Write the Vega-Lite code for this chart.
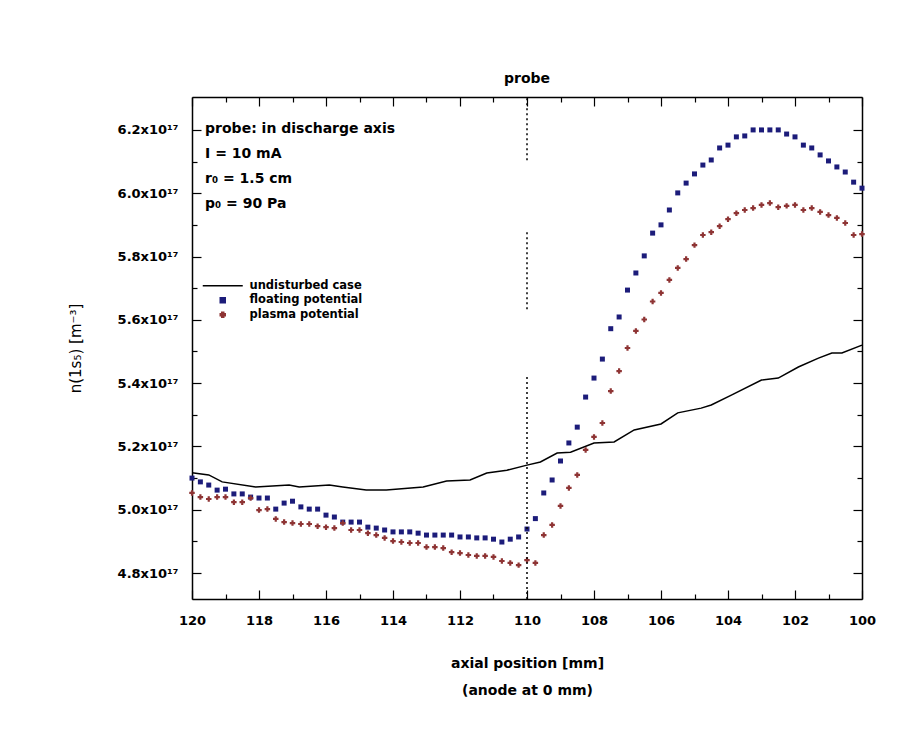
{
  "$schema": "https://vega.github.io/schema/vega-lite/v6.json",
  "autosize": {"type": "none"},
  "padding": {"left": 192, "top": 97, "right": 51, "bottom": 152},
  "width": 670,
  "height": 502,
  "background": "white",
  "title": {"text": "probe", "fontSize": 14, "fontWeight": "bold", "font": "DejaVu Sans", "color": "black", "offset": 10},
  "config": {
    "view": {"stroke": null},
    "axis": {"grid": false, "domainColor": "black", "domainWidth": 1.5, "tickColor": "black", "tickWidth": 1.2, "labelFont": "DejaVu Sans", "labelFontWeight": "bold", "labelFontSize": 13, "labelColor": "black", "titleFont": "DejaVu Sans", "titleColor": "black"}
  },
  "datasets": {
    "curves": [
      {"pos": 120, "n": 5.117, "series": "undisturbed case"},
      {"pos": 119.5, "n": 5.110, "series": "undisturbed case"},
      {"pos": 119.1, "n": 5.088, "series": "undisturbed case"},
      {"pos": 118.1, "n": 5.072, "series": "undisturbed case"},
      {"pos": 117.1, "n": 5.078, "series": "undisturbed case"},
      {"pos": 116.8, "n": 5.072, "series": "undisturbed case"},
      {"pos": 115.9, "n": 5.078, "series": "undisturbed case"},
      {"pos": 115.5, "n": 5.072, "series": "undisturbed case"},
      {"pos": 114.8, "n": 5.062, "series": "undisturbed case"},
      {"pos": 114.2, "n": 5.062, "series": "undisturbed case"},
      {"pos": 113.1, "n": 5.072, "series": "undisturbed case"},
      {"pos": 112.4, "n": 5.091, "series": "undisturbed case"},
      {"pos": 111.7, "n": 5.094, "series": "undisturbed case"},
      {"pos": 111.2, "n": 5.116, "series": "undisturbed case"},
      {"pos": 110.6, "n": 5.125, "series": "undisturbed case"},
      {"pos": 110.0, "n": 5.141, "series": "undisturbed case"},
      {"pos": 109.6, "n": 5.151, "series": "undisturbed case"},
      {"pos": 109.1, "n": 5.179, "series": "undisturbed case"},
      {"pos": 108.7, "n": 5.182, "series": "undisturbed case"},
      {"pos": 108.0, "n": 5.211, "series": "undisturbed case"},
      {"pos": 107.4, "n": 5.214, "series": "undisturbed case"},
      {"pos": 106.8, "n": 5.252, "series": "undisturbed case"},
      {"pos": 106.0, "n": 5.271, "series": "undisturbed case"},
      {"pos": 105.5, "n": 5.306, "series": "undisturbed case"},
      {"pos": 104.8, "n": 5.321, "series": "undisturbed case"},
      {"pos": 104.5, "n": 5.331, "series": "undisturbed case"},
      {"pos": 103.9, "n": 5.362, "series": "undisturbed case"},
      {"pos": 103.0, "n": 5.410, "series": "undisturbed case"},
      {"pos": 102.5, "n": 5.416, "series": "undisturbed case"},
      {"pos": 101.9, "n": 5.451, "series": "undisturbed case"},
      {"pos": 101.3, "n": 5.479, "series": "undisturbed case"},
      {"pos": 100.9, "n": 5.495, "series": "undisturbed case"},
      {"pos": 100.6, "n": 5.495, "series": "undisturbed case"},
      {"pos": 100.0, "n": 5.520, "series": "undisturbed case"},

      {"pos": 120, "n": 5.100, "series": "floating potential"},
      {"pos": 119.75, "n": 5.088, "series": "floating potential"},
      {"pos": 119.5, "n": 5.078, "series": "floating potential"},
      {"pos": 119.25, "n": 5.062, "series": "floating potential"},
      {"pos": 119.0, "n": 5.065, "series": "floating potential"},
      {"pos": 118.75, "n": 5.050, "series": "floating potential"},
      {"pos": 118.5, "n": 5.050, "series": "floating potential"},
      {"pos": 118.25, "n": 5.040, "series": "floating potential"},
      {"pos": 118.0, "n": 5.037, "series": "floating potential"},
      {"pos": 117.75, "n": 5.037, "series": "floating potential"},
      {"pos": 117.5, "n": 5.002, "series": "floating potential"},
      {"pos": 117.25, "n": 5.021, "series": "floating potential"},
      {"pos": 117.0, "n": 5.027, "series": "floating potential"},
      {"pos": 116.75, "n": 5.009, "series": "floating potential"},
      {"pos": 116.5, "n": 5.002, "series": "floating potential"},
      {"pos": 116.25, "n": 5.002, "series": "floating potential"},
      {"pos": 116.0, "n": 4.983, "series": "floating potential"},
      {"pos": 115.75, "n": 4.977, "series": "floating potential"},
      {"pos": 115.5, "n": 4.961, "series": "floating potential"},
      {"pos": 115.25, "n": 4.961, "series": "floating potential"},
      {"pos": 115.0, "n": 4.961, "series": "floating potential"},
      {"pos": 114.75, "n": 4.945, "series": "floating potential"},
      {"pos": 114.5, "n": 4.942, "series": "floating potential"},
      {"pos": 114.25, "n": 4.936, "series": "floating potential"},
      {"pos": 114.0, "n": 4.930, "series": "floating potential"},
      {"pos": 113.75, "n": 4.930, "series": "floating potential"},
      {"pos": 113.5, "n": 4.930, "series": "floating potential"},
      {"pos": 113.25, "n": 4.926, "series": "floating potential"},
      {"pos": 113.0, "n": 4.920, "series": "floating potential"},
      {"pos": 112.75, "n": 4.920, "series": "floating potential"},
      {"pos": 112.5, "n": 4.920, "series": "floating potential"},
      {"pos": 112.25, "n": 4.920, "series": "floating potential"},
      {"pos": 112.0, "n": 4.914, "series": "floating potential"},
      {"pos": 111.75, "n": 4.914, "series": "floating potential"},
      {"pos": 111.5, "n": 4.911, "series": "floating potential"},
      {"pos": 111.25, "n": 4.911, "series": "floating potential"},
      {"pos": 111.0, "n": 4.907, "series": "floating potential"},
      {"pos": 110.75, "n": 4.898, "series": "floating potential"},
      {"pos": 110.5, "n": 4.907, "series": "floating potential"},
      {"pos": 110.25, "n": 4.914, "series": "floating potential"},
      {"pos": 110.0, "n": 4.939, "series": "floating potential"},
      {"pos": 109.75, "n": 4.972, "series": "floating potential"},
      {"pos": 109.5, "n": 5.053, "series": "floating potential"},
      {"pos": 109.25, "n": 5.094, "series": "floating potential"},
      {"pos": 109.0, "n": 5.154, "series": "floating potential"},
      {"pos": 108.75, "n": 5.211, "series": "floating potential"},
      {"pos": 108.5, "n": 5.261, "series": "floating potential"},
      {"pos": 108.25, "n": 5.356, "series": "floating potential"},
      {"pos": 108.0, "n": 5.416, "series": "floating potential"},
      {"pos": 107.75, "n": 5.476, "series": "floating potential"},
      {"pos": 107.5, "n": 5.572, "series": "floating potential"},
      {"pos": 107.25, "n": 5.609, "series": "floating potential"},
      {"pos": 107.0, "n": 5.694, "series": "floating potential"},
      {"pos": 106.75, "n": 5.748, "series": "floating potential"},
      {"pos": 106.5, "n": 5.802, "series": "floating potential"},
      {"pos": 106.25, "n": 5.874, "series": "floating potential"},
      {"pos": 106.0, "n": 5.900, "series": "floating potential"},
      {"pos": 105.75, "n": 5.947, "series": "floating potential"},
      {"pos": 105.5, "n": 6.001, "series": "floating potential"},
      {"pos": 105.25, "n": 6.032, "series": "floating potential"},
      {"pos": 105.0, "n": 6.061, "series": "floating potential"},
      {"pos": 104.75, "n": 6.089, "series": "floating potential"},
      {"pos": 104.5, "n": 6.105, "series": "floating potential"},
      {"pos": 104.25, "n": 6.143, "series": "floating potential"},
      {"pos": 104.0, "n": 6.152, "series": "floating potential"},
      {"pos": 103.75, "n": 6.178, "series": "floating potential"},
      {"pos": 103.5, "n": 6.181, "series": "floating potential"},
      {"pos": 103.25, "n": 6.200, "series": "floating potential"},
      {"pos": 103.0, "n": 6.200, "series": "floating potential"},
      {"pos": 102.75, "n": 6.200, "series": "floating potential"},
      {"pos": 102.5, "n": 6.200, "series": "floating potential"},
      {"pos": 102.25, "n": 6.187, "series": "floating potential"},
      {"pos": 102.0, "n": 6.178, "series": "floating potential"},
      {"pos": 101.75, "n": 6.152, "series": "floating potential"},
      {"pos": 101.5, "n": 6.143, "series": "floating potential"},
      {"pos": 101.25, "n": 6.121, "series": "floating potential"},
      {"pos": 101.0, "n": 6.102, "series": "floating potential"},
      {"pos": 100.75, "n": 6.083, "series": "floating potential"},
      {"pos": 100.5, "n": 6.067, "series": "floating potential"},
      {"pos": 100.25, "n": 6.035, "series": "floating potential"},
      {"pos": 100.0, "n": 6.016, "series": "floating potential"},

      {"pos": 120, "n": 5.053, "series": "plasma potential"},
      {"pos": 119.75, "n": 5.040, "series": "plasma potential"},
      {"pos": 119.5, "n": 5.034, "series": "plasma potential"},
      {"pos": 119.25, "n": 5.040, "series": "plasma potential"},
      {"pos": 119.0, "n": 5.040, "series": "plasma potential"},
      {"pos": 118.75, "n": 5.024, "series": "plasma potential"},
      {"pos": 118.5, "n": 5.024, "series": "plasma potential"},
      {"pos": 118.25, "n": 5.037, "series": "plasma potential"},
      {"pos": 118.0, "n": 4.999, "series": "plasma potential"},
      {"pos": 117.75, "n": 5.002, "series": "plasma potential"},
      {"pos": 117.5, "n": 4.971, "series": "plasma potential"},
      {"pos": 117.25, "n": 4.961, "series": "plasma potential"},
      {"pos": 117.0, "n": 4.958, "series": "plasma potential"},
      {"pos": 116.75, "n": 4.955, "series": "plasma potential"},
      {"pos": 116.5, "n": 4.955, "series": "plasma potential"},
      {"pos": 116.25, "n": 4.948, "series": "plasma potential"},
      {"pos": 116.0, "n": 4.945, "series": "plasma potential"},
      {"pos": 115.75, "n": 4.942, "series": "plasma potential"},
      {"pos": 115.5, "n": 4.958, "series": "plasma potential"},
      {"pos": 115.25, "n": 4.936, "series": "plasma potential"},
      {"pos": 115.0, "n": 4.936, "series": "plasma potential"},
      {"pos": 114.75, "n": 4.926, "series": "plasma potential"},
      {"pos": 114.5, "n": 4.920, "series": "plasma potential"},
      {"pos": 114.25, "n": 4.911, "series": "plasma potential"},
      {"pos": 114.0, "n": 4.901, "series": "plasma potential"},
      {"pos": 113.75, "n": 4.898, "series": "plasma potential"},
      {"pos": 113.5, "n": 4.895, "series": "plasma potential"},
      {"pos": 113.25, "n": 4.895, "series": "plasma potential"},
      {"pos": 113.0, "n": 4.882, "series": "plasma potential"},
      {"pos": 112.75, "n": 4.882, "series": "plasma potential"},
      {"pos": 112.5, "n": 4.879, "series": "plasma potential"},
      {"pos": 112.25, "n": 4.866, "series": "plasma potential"},
      {"pos": 112.0, "n": 4.863, "series": "plasma potential"},
      {"pos": 111.75, "n": 4.857, "series": "plasma potential"},
      {"pos": 111.5, "n": 4.854, "series": "plasma potential"},
      {"pos": 111.25, "n": 4.854, "series": "plasma potential"},
      {"pos": 111.0, "n": 4.851, "series": "plasma potential"},
      {"pos": 110.75, "n": 4.838, "series": "plasma potential"},
      {"pos": 110.5, "n": 4.832, "series": "plasma potential"},
      {"pos": 110.25, "n": 4.825, "series": "plasma potential"},
      {"pos": 110.0, "n": 4.841, "series": "plasma potential"},
      {"pos": 109.75, "n": 4.832, "series": "plasma potential"},
      {"pos": 109.5, "n": 4.920, "series": "plasma potential"},
      {"pos": 109.25, "n": 4.952, "series": "plasma potential"},
      {"pos": 109.0, "n": 5.012, "series": "plasma potential"},
      {"pos": 108.75, "n": 5.069, "series": "plasma potential"},
      {"pos": 108.5, "n": 5.110, "series": "plasma potential"},
      {"pos": 108.25, "n": 5.189, "series": "plasma potential"},
      {"pos": 108.0, "n": 5.230, "series": "plasma potential"},
      {"pos": 107.75, "n": 5.274, "series": "plasma potential"},
      {"pos": 107.5, "n": 5.375, "series": "plasma potential"},
      {"pos": 107.25, "n": 5.438, "series": "plasma potential"},
      {"pos": 107.0, "n": 5.511, "series": "plasma potential"},
      {"pos": 106.75, "n": 5.565, "series": "plasma potential"},
      {"pos": 106.5, "n": 5.601, "series": "plasma potential"},
      {"pos": 106.25, "n": 5.658, "series": "plasma potential"},
      {"pos": 106.0, "n": 5.685, "series": "plasma potential"},
      {"pos": 105.75, "n": 5.726, "series": "plasma potential"},
      {"pos": 105.5, "n": 5.764, "series": "plasma potential"},
      {"pos": 105.25, "n": 5.792, "series": "plasma potential"},
      {"pos": 105.0, "n": 5.836, "series": "plasma potential"},
      {"pos": 104.75, "n": 5.868, "series": "plasma potential"},
      {"pos": 104.5, "n": 5.877, "series": "plasma potential"},
      {"pos": 104.25, "n": 5.896, "series": "plasma potential"},
      {"pos": 104.0, "n": 5.918, "series": "plasma potential"},
      {"pos": 103.75, "n": 5.937, "series": "plasma potential"},
      {"pos": 103.5, "n": 5.947, "series": "plasma potential"},
      {"pos": 103.25, "n": 5.953, "series": "plasma potential"},
      {"pos": 103.0, "n": 5.963, "series": "plasma potential"},
      {"pos": 102.75, "n": 5.969, "series": "plasma potential"},
      {"pos": 102.5, "n": 5.956, "series": "plasma potential"},
      {"pos": 102.25, "n": 5.960, "series": "plasma potential"},
      {"pos": 102.0, "n": 5.963, "series": "plasma potential"},
      {"pos": 101.75, "n": 5.947, "series": "plasma potential"},
      {"pos": 101.5, "n": 5.953, "series": "plasma potential"},
      {"pos": 101.25, "n": 5.941, "series": "plasma potential"},
      {"pos": 101.0, "n": 5.931, "series": "plasma potential"},
      {"pos": 100.75, "n": 5.922, "series": "plasma potential"},
      {"pos": 100.5, "n": 5.906, "series": "plasma potential"},
      {"pos": 100.25, "n": 5.868, "series": "plasma potential"},
      {"pos": 100.0, "n": 5.871, "series": "plasma potential"}
    ]
  },
  "layer": [
    {
      "data": {"name": "curves"},
      "transform": [{"filter": "datum.series === 'undisturbed case'"}],
      "mark": {"type": "line", "strokeWidth": 1.5, "interpolate": "linear"},
      "encoding": {
        "x": {"field": "pos", "type": "quantitative",
          "scale": {"domain": [100, 120], "reverse": true, "nice": false, "zero": false},
          "axis": {"orient": "bottom", "values": [100,101,102,103,104,105,106,107,108,109,110,111,112,113,114,115,116,117,118,119,120],
            "labelExpr": "datum.value % 2 === 0 ? format(datum.value, 'd') : ''",
            "tickSize": {"condition": {"test": "datum.value % 2 === 0", "value": -9}, "value": -5},
            "labelPadding": 24, "labelFlush": false,
            "title": ["axial position [mm]", "(anode at 0 mm)"], "titleFontSize": 14, "titleFontWeight": "bold", "titlePadding": 29, "titleLineHeight": 27}},
        "y": {"field": "n", "type": "quantitative",
          "scale": {"domain": [4.718, 6.304], "nice": false, "zero": false},
          "axis": {"orient": "left", "values": [4.8,4.9,5.0,5.1,5.2,5.3,5.4,5.5,5.6,5.7,5.8,5.9,6.0,6.1,6.2],
            "labelExpr": "round(datum.value*10) % 2 === 0 ? format(datum.value, '.1f') + 'x10¹⁷' : ''",
            "tickSize": {"condition": {"test": "round(datum.value*10) % 2 === 0", "value": -9}, "value": -5},
            "labelPadding": 23, "labelFlush": false,
            "title": "n(1s₅) [m⁻³]", "titleFontSize": 15, "titleFontWeight": "normal", "titlePadding": 34}},
        "color": {"field": "series", "type": "nominal",
          "scale": {"domain": ["undisturbed case", "floating potential", "plasma potential"], "range": ["#000000", "#1c1c7a", "#8e3434"]},
          "legend": {"orient": "none", "legendX": 25, "legendY": 183, "title": null,
            "labelFont": "DejaVu Sans", "labelFontWeight": "bold", "labelFontSize": 11.5, "labelColor": "black",
            "symbolSize": 1600, "rowPadding": 1.5, "labelOffset": 21,
            "encode": {"symbols": {"update": {
              "shape": {"signal": "datum.value === 'undisturbed case' ? 'stroke' : (datum.value === 'floating potential' ? 'square' : 'cross')"},
              "size": {"signal": "datum.value === 'undisturbed case' ? 1600 : 25"},
              "stroke": {"signal": "datum.value === 'undisturbed case' ? '#000000' : 'transparent'"},
              "strokeWidth": {"value": 1.5},
              "fill": {"signal": "datum.value === 'floating potential' ? '#1c1c7a' : (datum.value === 'plasma potential' ? '#8e3434' : 'transparent')"},
              "opacity": {"value": 1}
            }}}}
        }
      }
    },
    {
      "data": {"name": "curves"},
      "transform": [{"filter": "datum.series === 'floating potential'"}],
      "mark": {"type": "point", "shape": "square", "filled": true, "size": 25, "opacity": 1},
      "encoding": {
        "x": {"field": "pos", "type": "quantitative",
          "axis": {"orient": "top", "values": [100,101,102,103,104,105,106,107,108,109,110,111,112,113,114,115,116,117,118,119,120], "labels": false, "title": null,
            "tickSize": {"condition": {"test": "datum.value % 2 === 0", "value": -9}, "value": -5}}},
        "y": {"field": "n", "type": "quantitative",
          "axis": {"orient": "right", "values": [4.8,4.9,5.0,5.1,5.2,5.3,5.4,5.5,5.6,5.7,5.8,5.9,6.0,6.1,6.2], "labels": false, "title": null,
            "tickSize": {"condition": {"test": "round(datum.value*10) % 2 === 0", "value": -9}, "value": -5}}},
        "color": {"field": "series", "type": "nominal"}
      }
    },
    {
      "data": {"name": "curves"},
      "transform": [{"filter": "datum.series === 'plasma potential'"}],
      "mark": {"type": "point", "shape": "cross", "filled": true, "size": 30, "opacity": 1},
      "encoding": {
        "x": {"field": "pos", "type": "quantitative", "axis": null},
        "y": {"field": "n", "type": "quantitative", "axis": null},
        "color": {"field": "series", "type": "nominal"}
      }
    },
    {
      "data": {"values": [{"top": 6.30, "bottom": 6.095}, {"top": 5.877, "bottom": 5.631}, {"top": 5.419, "bottom": 4.718}]},
      "mark": {"type": "rule", "strokeDash": [2, 3], "strokeWidth": 1.5, "color": "black"},
      "encoding": {
        "x": {"datum": 110, "type": "quantitative", "axis": null},
        "y": {"field": "top", "type": "quantitative", "axis": null},
        "y2": {"field": "bottom"}
      }
    },
    {
      "data": {"values": [{"note": "probe: in discharge axis\nI = 10 mA\nr₀ = 1.5 cm\np₀ = 90 Pa"}]},
      "mark": {"type": "text", "align": "left", "baseline": "top", "lineBreak": "\n", "lineHeight": 25, "font": "DejaVu Sans", "fontWeight": "bold", "fontSize": 14, "color": "black"},
      "encoding": {
        "x": {"datum": 119.61, "type": "quantitative", "axis": null},
        "y": {"datum": 6.226, "type": "quantitative", "axis": null},
        "text": {"field": "note"}
      }
    }
  ],
  "resolve": {"axis": {"x": "independent", "y": "independent"}}
}
